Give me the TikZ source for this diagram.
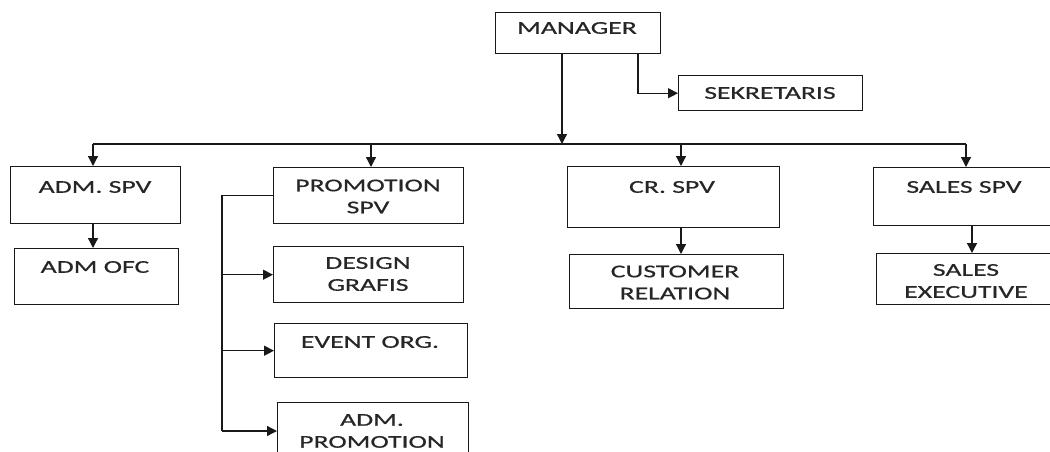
\documentclass[tikz,border=0pt]{standalone}
\usepackage{fontspec}
\setmainfont{Carlito}[FakeStretch=1.54,FakeBold=0.6]
\usetikzlibrary{arrows.meta}
\begin{document}
\begin{tikzpicture}[x=1pt,y=-1pt,
  box/.style={draw=black!90, line width=1.4pt, anchor=north west, inner sep=0pt},
  lbl/.style={font=\fontsize{18}{22}\selectfont, text=black!85, align=center, inner sep=0pt},
  ln/.style={draw=black!90, line width=1.3pt},
  arr/.style={ln, -{Triangle[length=10pt,width=10pt]}}]
\useasboundingbox (0,0) rectangle (1050,451);
\clip (0,0) rectangle (1050,451);
% boxes
\node[box, minimum width=165pt, minimum height=41pt] (mgr) at (495,12) {};
\node[box, minimum width=184pt, minimum height=35pt] (sek) at (678,75) {};
\node[box, minimum width=170pt, minimum height=57pt] (adms) at (10,166) {};
\node[box, minimum width=164pt, minimum height=56pt] (admo) at (14,248) {};
\node[box, minimum width=190pt, minimum height=56pt] (prom) at (273,167) {};
\node[box, minimum width=190pt, minimum height=56pt] (des) at (273,246) {};
\node[box, minimum width=193pt, minimum height=54pt] (evt) at (274,323) {};
\node[box, minimum width=191pt, minimum height=58pt] (admp) at (277,402) {};
\node[box, minimum width=212pt, minimum height=61pt] (cr) at (567,166) {};
\node[box, minimum width=214pt, minimum height=54pt] (cust) at (569,254) {};
\node[box, minimum width=185pt, minimum height=58pt] (sales) at (873,167) {};
\node[box, minimum width=185pt, minimum height=51pt] (exec) at (876,253) {};
% texts
\node[lbl] (mgrT) at (577,28) {MANAGER};
\node[lbl] (sekT) at (770,93) {SEKRETARIS};
\node[lbl] (admsT) at (95,187) {ADM. SPV};
\node[lbl] (admoT) at (95,267) {ADM OFC};
\node[lbl] (promT) at (368,196.5) {PROMOTION\\SPV};
\node[lbl] (desT) at (368,274) {DESIGN\\GRAFIS};
\node[lbl] (evtT) at (370,342) {EVENT ORG.};
\node[lbl] (admpT) at (372,431) {ADM.\\PROMOTION};
\node[lbl] (crT) at (672,187) {CR. SPV};
\node[lbl] (custT) at (675,282.5) {CUSTOMER\\RELATION};
\node[lbl] (salesT) at (964,187) {SALES SPV};
\node[lbl] (execT) at (966,281) {SALES\\EXECUTIVE};
% connectors
\coordinate (busL) at (93,144);
\coordinate (busR) at (966,144);
\coordinate (m1) at (562,144);
\coordinate (s1) at (638,0);
\coordinate (p1) at (371,144);
\coordinate (c1) at (681,144);
\coordinate (e1) at (972,0);
\coordinate (pb) at (222,431);
\draw[ln] (busL) -- (busR);
\draw[arr] (m1 |- mgr.south) -- (m1);
\draw[arr] (s1 |- mgr.south) |- (sek.west);
\draw[arr] (busL) -- (busL |- adms.north);
\draw[arr] (p1) -- (p1 |- prom.north);
\draw[arr] (c1) -- (c1 |- cr.north);
\draw[arr] (busR) -- (busR |- sales.north);
\draw[arr] (busL |- adms.south) -- (busL |- admo.north);
\draw[arr] (c1 |- cr.south) -- (c1 |- cust.north);
\draw[arr] (e1 |- sales.south) -- (e1 |- exec.north);
\draw[ln] (prom.west) -| (pb);
\draw[arr] (pb |- des.west) -- (des.west);
\draw[arr] (pb |- evt.west) -- (evt.west);
\draw[arr] (pb) -- (pb -| admp.west);
\end{tikzpicture}
\end{document}
